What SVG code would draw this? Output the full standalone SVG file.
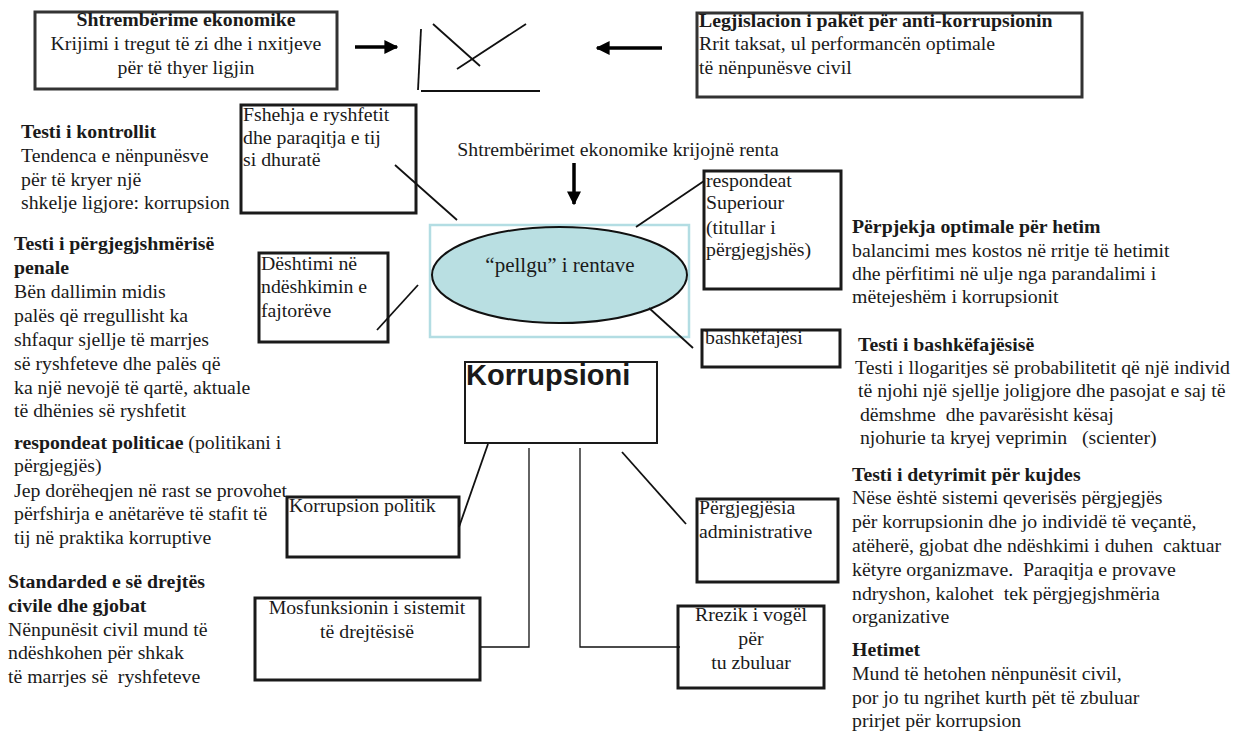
<svg xmlns="http://www.w3.org/2000/svg" width="1239" height="733" viewBox="0 0 1239 733" font-family="'Liberation Serif', 'DejaVu Serif', serif">
<style>
text{font-family:'Liberation Serif','DejaVu Serif',serif;font-size:19.8px;fill:#1a1a1a;white-space:pre}
.b{font-weight:bold}
.c{text-anchor:middle}
.sans{font-family:'Liberation Sans',Arial,sans-serif;font-weight:bold;font-size:29px}
.box{fill:#fff;stroke:#1a1a1a;stroke-width:3}
.ln{stroke:#111;stroke-width:1.8;fill:none}
.thin{stroke:#111;stroke-width:1.3;fill:none}
.arr{stroke:#000;stroke-width:3.5;fill:none}
</style>
<defs>
<marker id="ah" viewBox="0 0 10 10" refX="9" refY="5" markerWidth="4" markerHeight="4" orient="auto" markerUnits="strokeWidth">
<path d="M0,0 L10,5 L0,10 z" fill="#000"/>
</marker>
</defs>
<rect width="1239" height="733" fill="#fff"/>

<g id="n-shtrembërime">
<rect class="box" x="35" y="12" width="302" height="77" style="stroke:#333"/>
<text class="c b" x="186" y="26">Shtrembërime ekonomike</text>
<text class="c" x="186" y="50">Krijimi i tregut të zi dhe i nxitjeve</text>
<text class="c" x="186" y="74">për të thyer ligjin</text>
</g>

<g id="n-chart">
<line class="ln" x1="421" y1="29" x2="418" y2="90"/>
<line class="ln" x1="421" y1="91" x2="540" y2="91"/>
<line class="ln" x1="433" y1="24" x2="480" y2="66"/>
<line class="ln" x1="457" y1="69" x2="526" y2="24"/>
</g>

<g id="n-legjislacion">
<rect class="box" x="697" y="13" width="385" height="84" style="stroke:#333"/>
<text class="b" x="699" y="27">Legjislacion i pakët për anti-korrupsionin</text>
<text x="699" y="50">Rrit taksat, ul performancën optimale</text>
<text x="699" y="74">të nënpunësve civil</text>
</g>

<g id="t-kontrollit">
<text class="b" x="21" y="138">Testi i kontrollit</text>
<text x="21" y="162">Tendenca e nënpunësve</text>
<text x="21" y="186">për të kryer një</text>
<text x="21" y="209">shkelje ligjore: korrupsion</text>
</g>

<g id="t-penale">
<text class="b" x="14" y="250">Testi i përgjegjshmërisë</text>
<text class="b" x="14" y="274">penale</text>
<text x="14" y="298">Bën dallimin midis</text>
<text x="14" y="322">palës që rregullisht ka</text>
<text x="14" y="346">shfaqur sjellje të marrjes</text>
<text x="14" y="370">së ryshfeteve dhe palës që</text>
<text x="14" y="394">ka një nevojë të qartë, aktuale</text>
<text x="14" y="417">të dhënies së ryshfetit</text>
</g>

<g id="t-politicae">
<text x="14" y="449"><tspan class="b">respondeat politicae</tspan> (politikani i</text>
<text x="14" y="472">përgjegjës)</text>
<text x="14" y="497">Jep dorëheqjen në rast se provohet</text>
<text x="14" y="520">përfshirja e anëtarëve të stafit të</text>
<text x="14" y="544">tij në praktika korruptive</text>
</g>

<g id="t-standarded">
<text class="b" x="8" y="588">Standarded e së drejtës</text>
<text class="b" x="8" y="612">civile dhe gjobat</text>
<text x="8" y="636">Nënpunësit civil mund të</text>
<text x="8" y="659">ndëshkohen për shkak</text>
<text x="8" y="683">të marrjes së  ryshfeteve</text>
</g>

<g id="n-fshehja">
<rect class="box" x="241" y="105" width="175" height="108"/>
<text x="243" y="121">Fshehja e ryshfetit</text>
<text x="243" y="144">dhe paraqitja e tij</text>
<text x="243" y="166">si dhuratë</text>
</g>

<g id="n-deshtimi">
<rect class="box" x="259" y="253" width="129" height="89"/>
<text x="261" y="270">Dështimi në</text>
<text x="261" y="293">ndëshkimin e</text>
<text x="261" y="317">fajtorëve</text>
</g>

<g id="n-pellgu">
<rect x="430" y="225" width="259" height="112" fill="none" stroke="#b3dde3" stroke-width="2.5"/>
<ellipse cx="559.5" cy="275" rx="127.5" ry="48" fill="#b9dfe2" stroke="#111" stroke-width="2"/>
<text class="c" x="560" y="272" style="font-size:21px">“pellgu” i rentave</text>
</g>

<g id="t-renta">
<text class="c" x="618" y="156">Shtrembërimet ekonomike krijojnë renta</text>
</g>

<g id="n-respondeat">
<rect class="box" x="704" y="171" width="137" height="118"/>
<text x="706" y="187">respondeat</text>
<text x="706" y="209">Superiour</text>
<text x="706" y="234">(titullar i</text>
<text x="706" y="256">përgjegjshës)</text>
</g>

<g id="n-bashkefajesi">
<rect class="box" x="702" y="330" width="138" height="37"/>
<text x="705" y="344">bashkëfajësi</text>
</g>

<g id="t-perpjekja">
<text class="b" x="852" y="233">Përpjekja optimale për hetim</text>
<text x="852" y="257">balancimi mes kostos në rritje të hetimit</text>
<text x="852" y="280">dhe përfitimi në ulje nga parandalimi i</text>
<text x="852" y="303">mëtejeshëm i korrupsionit</text>
</g>

<g id="t-bashkefajesise">
<text class="b" x="858" y="351">Testi i bashkëfajësisë</text>
<text x="855" y="374">Testi i llogaritjes së probabilitetit që një individ</text>
<text x="858" y="397">të njohi një sjellje joligjore dhe pasojat e saj të</text>
<text x="855" y="421"> dëmshme  dhe pavarësisht kësaj</text>
<text x="855" y="444"> njohurie ta kryej veprimin   (scienter)</text>
</g>

<g id="t-kujdes">
<text class="b" x="852" y="481">Testi i detyrimit për kujdes</text>
<text x="852" y="504">Nëse është sistemi qeverisës përgjegjës</text>
<text x="852" y="528">për korrupsionin dhe jo individë të veçantë,</text>
<text x="852" y="552">atëherë, gjobat dhe ndëshkimi i duhen  caktuar</text>
<text x="852" y="576">këtyre organizmave.  Paraqitja e provave</text>
<text x="852" y="600">ndryshon, kalohet  tek përgjegjshmëria</text>
<text x="852" y="623">organizative</text>
</g>

<g id="t-hetimet">
<text class="b" x="852" y="656">Hetimet</text>
<text x="852" y="680">Mund të hetohen nënpunësit civil,</text>
<text x="852" y="704">por jo tu ngrihet kurth pët të zbuluar</text>
<text x="852" y="727">prirjet për korrupsion</text>
</g>

<g id="n-korrupsioni">
<rect x="465" y="362" width="192" height="81" fill="#fff" stroke="#1a1a1a" stroke-width="2"/>
<text class="sans" x="466" y="385">Korrupsioni</text>
</g>

<g id="n-politik">
<rect class="box" x="287" y="497" width="172" height="60"/>
<text x="289" y="512">Korrupsion politik</text>
</g>

<g id="n-mosfunksionin">
<rect class="box" x="255" y="598" width="225" height="82"/>
<text class="c" x="367" y="614">Mosfunksionin i sistemit</text>
<text class="c" x="367" y="638">të drejtësisë</text>
</g>

<g id="n-administrative">
<rect class="box" x="697" y="499" width="141" height="83"/>
<text x="699" y="514">Përgjegjësia</text>
<text x="699" y="538">administrative</text>
</g>

<g id="n-rrezik">
<rect class="box" x="678" y="606" width="146" height="82"/>
<text class="c" x="751" y="621">Rrezik i vogël</text>
<text class="c" x="751" y="645">për</text>
<text class="c" x="751" y="669">tu zbuluar</text>
</g>

<g id="connectors">
<line class="arr" x1="355" y1="47" x2="397" y2="47" marker-end="url(#ah)"/>
<line class="arr" x1="662" y1="48" x2="597" y2="48" marker-end="url(#ah)"/>
<line class="arr" x1="574" y1="163" x2="574" y2="204" marker-end="url(#ah)"/>
<line class="ln" x1="395" y1="165" x2="457" y2="220"/>
<line class="ln" x1="377" y1="330" x2="418" y2="285"/>
<line class="ln" x1="636" y1="227" x2="704" y2="181"/>
<line class="ln" x1="649" y1="308" x2="693" y2="348"/>
<line class="ln" x1="488" y1="444" x2="459" y2="527"/>
<polyline class="thin" points="529,448 529,647 481,647"/>
<polyline class="thin" points="580,448 580,647 680,647"/>
<line class="ln" x1="622" y1="452" x2="686" y2="524"/>
</g>
</svg>
